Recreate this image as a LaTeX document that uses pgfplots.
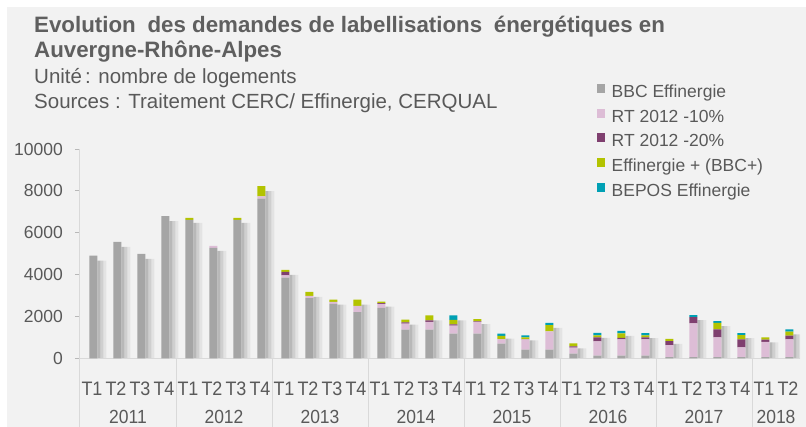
\documentclass[border=0pt]{standalone}
\usepackage{fontspec}
\setmainfont{Liberation Sans}
\newfontfamily\condfont[FakeStretch=0.92]{Liberation Sans}
\usepackage{pgfplots}
\pgfplotsset{compat=1.18}
\usepackage{pgfplotstable}
\definecolor{bgcol}{HTML}{F2F2F2}
\definecolor{axcol}{HTML}{D9D9D9}
\definecolor{textgray}{HTML}{595959}
\definecolor{titlegray}{HTML}{5F5F5F}
\definecolor{cbbc}{HTML}{A5A5A5}
\definecolor{cpten}{HTML}{DDBDD6}
\definecolor{cptw}{HTML}{7F3F6F}
\definecolor{ceff}{HTML}{B3C300}
\definecolor{cbepos}{HTML}{00A0B4}

\pgfplotstableread{
i bbc p10 p20 eff bepos
0 4900 0 0 0 0
1 5560 0 0 0 0
2 4990 0 0 0 0
3 6790 0 0 0 0
4 6610 0 0 100 0
5 5280 90 0 0 0
6 6610 0 0 100 0
7 7630 110 0 480 0
8 3850 110 170 100 0
9 2880 100 0 190 0
10 2600 100 0 100 0
11 2210 300 0 290 0
12 2410 190 30 80 0
13 1365 290 65 125 0
14 1365 380 65 240 0
15 1175 380 65 220 210
16 1175 570 20 110 0
17 700 220 0 150 110
18 410 490 20 80 100
19 410 880 0 290 110
20 220 290 60 140 0
21 125 685 190 100 110
22 125 780 65 225 110
23 125 780 95 95 110
24 50 580 190 110 0
25 50 1620 300 0 95
26 50 950 380 315 80
27 50 475 380 205 95
28 50 730 110 110 0
29 50 855 175 190 110
}\data

\pgfplotsset{
  base/.style={scale only axis, width=720pt, height=209.3pt,
    xmin=-0.5, xmax=29.5, ymin=0, ymax=10000,
    at={(80pt,68.7pt)}, anchor=south west},
  shad/.style={fill=black, fill opacity=#1, draw=none, yshift=-5pt, bar width=3.1pt},
  legsq/.style={legend image code/.code={\fill[##1] (0pt,0pt) rectangle (8pt,9pt);}},
}

\begin{document}
\begin{tikzpicture}
\useasboundingbox (0,0) rectangle (806pt,427pt);
\fill[white] (0,0) rectangle (806pt,427pt);
\fill[bgcol] (7pt,0) rectangle (806pt,420pt);

% soft drop shadows behind the bars (total height of each stack)
\begin{axis}[base, hide axis, ybar]
\addplot[shad=0.24, bar shift=6.8pt] table[x=i, y expr=\thisrow{bbc}+\thisrow{p10}+\thisrow{p20}+\thisrow{eff}+\thisrow{bepos}]{\data};
\addplot[shad=0.14, bar shift=9.8pt] table[x=i, y expr=\thisrow{bbc}+\thisrow{p10}+\thisrow{p20}+\thisrow{eff}+\thisrow{bepos}]{\data};
\addplot[shad=0.06, bar shift=12.8pt] table[x=i, y expr=\thisrow{bbc}+\thisrow{p10}+\thisrow{p20}+\thisrow{eff}+\thisrow{bepos}]{\data};
\end{axis}

\begin{axis}[base, ybar stacked, bar width=8pt, bar shift=1.3pt, clip=false,
  axis lines*=left,
  axis line style={draw=axcol, line width=1pt},
  ytick={0,2000,4000,6000,8000,10000},
  tick align=outside, major tick length=5pt,
  ytick style={draw=axcol!85!black, line width=0.8pt},
  xtick={0,...,29},
  xticklabels={T1,T2,T3,T4,T1,T2,T3,T4,T1,T2,T3,T4,T1,T2,T3,T4,T1,T2,T3,T4,T1,T2,T3,T4,T1,T2,T3,T4,T1,T2},
  xtick style={draw=none},
  xticklabel style={font=\condfont\fontsize{19.5}{19.5}\selectfont, text=textgray, anchor=base, yshift=-32.4pt},
  yticklabel style={font=\fontsize{17.5}{17.5}\selectfont, text=textgray, anchor=east, inner sep=0pt, xshift=-12pt},
  /pgf/number format/assume math mode=true,
  /pgf/number format/1000 sep={},
  scaled y ticks=false,
  legend style={draw=none, fill=none, inner sep=0pt, outer sep=0pt, row sep=7.4pt,
    at={(axis description cs:0.7176,1.312)}, anchor=north west,
    font=\fontsize{17.5}{17.5}\selectfont, text=textgray,
    nodes={inner sep=0pt, text height=13pt, text depth=4pt},
    /tikz/every odd column/.append style={column sep=7pt}},
  legend cell align=left,
]
\addplot[fill=cbbc, draw=none, legsq] table[x=i,y=bbc]{\data};
\addlegendentry{BBC Effinergie}
\addplot[fill=cpten, draw=none, legsq] table[x=i,y=p10]{\data};
\addlegendentry{RT 2012 -10\%}
\addplot[fill=cptw, draw=none, legsq] table[x=i,y=p20]{\data};
\addlegendentry{RT 2012 -20\%}
\addplot[fill=ceff, draw=none, legsq] table[x=i,y=eff]{\data};
\addlegendentry{Effinergie + (BBC+)}
\addplot[fill=cbepos, draw=none, legsq] table[x=i,y=bepos]{\data};
\addlegendentry{BEPOS Effinergie}
\pgfplotsinvokeforeach{-0.5,3.5,7.5,11.5,15.5,19.5,23.5,27.5}{
  \draw[axcol, line width=1pt] (axis cs:#1,0) -- ++(0pt,-70pt);
}
\tikzset{yr/.style={anchor=base, yshift=-65.5pt, inner sep=0pt, font=\condfont\fontsize{19}{19}\selectfont, text=textgray}}
\node[yr] at (axis cs:1.5,0) {2011};
\node[yr] at (axis cs:5.5,0) {2012};
\node[yr] at (axis cs:9.5,0) {2013};
\node[yr] at (axis cs:13.5,0) {2014};
\node[yr] at (axis cs:17.5,0) {2015};
\node[yr] at (axis cs:21.5,0) {2016};
\node[yr] at (axis cs:25.5,0) {2017};
\node[yr] at (axis cs:28.5,0) {2018};
\end{axis}

\node[anchor=base west, inner sep=0pt, text=titlegray, font=\fontsize{22.3}{26}\selectfont\bfseries] at (34pt,394.7pt) {Evolution\hspace{0.25em} des demandes de labellisations\hspace{0.25em} énergétiques en};
\node[anchor=base west, inner sep=0pt, text=titlegray, font=\fontsize{22.3}{26}\selectfont\bfseries] at (34pt,369.7pt) {Auvergne-Rhône-Alpes};
\node[anchor=base west, inner sep=0pt, text=textgray, font=\fontsize{20.5}{24}\selectfont] at (34pt,343.7pt) {Unité\hspace{0.15em}: nombre de logements};
\node[anchor=base west, inner sep=0pt, text=textgray, font=\fontsize{20.5}{24}\selectfont] at (34pt,318pt) {Sources : Traitement CERC/ Effinergie, CERQUAL};
\end{tikzpicture}
\end{document}
